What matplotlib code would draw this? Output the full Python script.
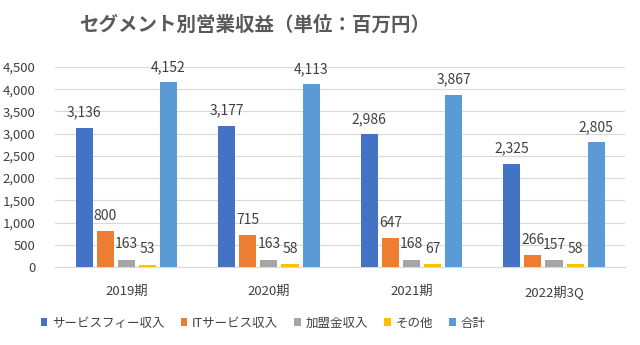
import numpy as np
import matplotlib
import matplotlib.pyplot as plt

matplotlib.use("Agg")

plt.rcParams["font.family"] = ["Noto Sans CJK JP", "DejaVu Sans"]

periods = ["2019期", "2020期", "2021期", "2022期3Q"]
series_names = ["サービスフィー収入", "ITサービス収入", "加盟金収入", "その他", "合計"]
service_fee = [3136, 3177, 2986, 2325]
it_service = [800, 715, 647, 266]
franchise_fee = [163, 163, 168, 157]
other = [53, 58, 67, 58]
total = [4152, 4113, 3867, 2805]
colors = ["#4472C4", "#ED7D31", "#A5A5A5", "#FFC000", "#5B9BD5"]

fig = plt.figure(figsize=(6.4, 3.45), dpi=100)
ax = fig.add_axes([0.086, 0.226, 0.891, 0.58])

x = np.arange(len(periods))
slot = 0.148
width = 0.12
values = [service_fee, it_service, franchise_fee, other, total]
for i, (name, vals, color) in enumerate(zip(series_names, values, colors)):
    bars = ax.bar(x + (i - 2) * slot, vals, width, color=color, label=name, zorder=3)
    ax.bar_label(bars, labels=[f"{v:,}" for v in vals], padding=6,
                 fontsize=10, color="#404040")

ax.set_xlim(-0.5, 3.5)
ax.set_ylim(0, 4500)
ax.set_yticks(range(0, 4501, 500))
ax.yaxis.set_major_formatter(matplotlib.ticker.FuncFormatter(lambda v, p: f"{int(v):,}"))
ax.set_xticks(x)
ax.set_xticklabels(periods)
ax.tick_params(axis="both", length=0, labelsize=9.5, colors="#404040")
ax.tick_params(axis="x", pad=13)
ax.tick_params(axis="y", pad=14)
ax.grid(axis="y", color="#D9D9D9", linewidth=0.8, zorder=0)
for position in ("left", "right", "top"):
    ax.spines[position].set_visible(False)
ax.spines["bottom"].set_color("#D9D9D9")

fig.text(255 / 640, 1 - 25 / 345, "セグメント別営業収益（単位：百万円）",
         ha="center", va="center", fontsize=14, fontweight="semibold", color="#595959")

fig.legend(loc="center", bbox_to_anchor=(263 / 640, 1 - 323 / 345), ncol=5,
           frameon=False, fontsize=9, handlelength=0.55, handleheight=0.55,
           handletextpad=0.35, columnspacing=1.3, labelcolor="#404040")

fig.savefig("out.png", dpi=100)
plt.close(fig)
